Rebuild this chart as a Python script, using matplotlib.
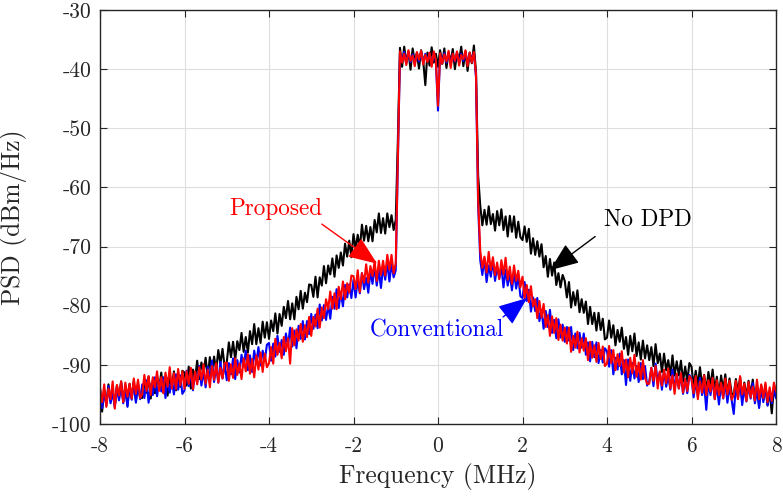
import numpy as np
import matplotlib
matplotlib.use("Agg")
import matplotlib.pyplot as plt

# ---------------- data ----------------
# frequency grid in MHz: -8 ... 8 in 0.05 MHz steps (321 points)
freq_mhz = np.linspace(-8.0, 8.0, 321)

# No DPD (black)
psd_no_dpd = (
    [-93.9, -97.9, -94.3, -96.6, -93.3, -96.2, -94.3, -96.9, -93.5, -95.7, -92.8, -96.2, -93.7, -96.9, -93.2, -95.6, -92.8, -96.1, -93.1, -95.5]
    + [-95.6, -92.7, -94.7, -92.0, -95.7, -92.6, -94.8, -91.9, -94.0, -91.3, -94.7, -92.3, -95.2, -91.6, -93.9, -91.1, -94.3, -91.9, -93.7, -91.0]
    + [-91.3, -93.5, -90.3, -94.0, -90.8, -92.4, -89.3, -92.4, -89.6, -91.3, -88.8, -92.1, -88.7, -91.0, -88.6, -91.0, -87.5, -89.8, -87.3, -90.3]
    + [-89.6, -86.2, -88.7, -86.1, -89.1, -86.0, -87.5, -84.6, -87.8, -85.3, -87.9, -84.3, -86.5, -83.1, -86.5, -83.8, -86.3, -82.7, -85.4, -82.8]
    + [-85.6, -82.5, -84.3, -81.3, -84.7, -81.4, -83.4, -80.2, -82.1, -79.2, -82.3, -79.6, -82.3, -78.5, -80.6, -77.5, -80.5, -77.8, -79.4, -76.4]
    + [-76.5, -78.5, -75.1, -78.6, -75.2, -76.6, -73.3, -76.2, -73.2, -74.7, -72.0, -75.1, -71.5, -73.6, -71.0, -73.2, -69.5, -71.7, -69.0, -71.8]
    + [-67.9, -70.4, -68.0, -70.3, -66.3, -69.0, -66.5, -69.1, -66.7, -69.1, -65.5, -67.6, -64.4, -67.7, -65.2, -67.8, -64.4, -66.7, -64.7, -67.2]
    + [-65.5, -52.0]
    + [-36.4, -39.6, -36.2, -38.9, -37.0, -40.1, -36.5, -38.8, -37.3, -39.9, -36.8, -38.6, -42.7, -37.2, -39.4, -36.3, -38.9, -37.4,
       -39.6, -36.8, -39.1, -36.5, -39.8, -37.2, -38.7, -36.6, -40.0, -37.3, -38.6, -36.2, -39.5, -37.0, -40.3, -37.2, -39.0, -36.0]
    + [-40.5, -58.0]
    + [-63.1, -66.4, -63.8, -66.3, -63.2, -66.2, -64.5, -67.3, -64.0, -66.4, -63.7, -67.2, -64.9, -68.3, -64.8, -67.5, -64.9, -68.5, -65.8, -68.4]
    + [-68.9, -66.6, -69.2, -67.0, -71.2, -68.6, -71.4, -69.1, -71.7, -69.6, -73.5, -71.6, -75.1, -72.1, -74.9, -72.7, -76.5, -74.5, -76.9, -74.8]
    + [-75.8, -78.6, -76.0, -80.3, -77.7, -79.9, -77.4, -81.1, -78.9, -81.2, -79.3, -83.1, -80.2, -83.1, -81.2, -84.2, -81.2, -84.1, -82.2, -85.7]
    + [-85.4, -82.5, -85.4, -83.3, -86.7, -84.1, -86.1, -83.7, -87.3, -85.3, -88.3, -85.1, -87.7, -84.7, -88.5, -86.2, -89.1, -85.9, -88.9, -86.7]
    + [-89.2, -87.0, -90.2, -86.5, -89.7, -88.1, -91.2, -88.1, -90.9, -89.2, -91.8, -88.4, -91.8, -89.4, -91.8, -89.3, -92.8, -90.3, -92.8, -89.7]
    + [-90.3, -93.6, -91.0, -93.5, -90.4, -93.4, -91.7, -94.5, -91.2, -93.6, -90.8, -94.3, -92.0, -95.3, -91.8, -94.3, -91.6, -95.1, -92.3, -94.8]
    + [-95.1, -92.4, -94.6, -92.1, -95.9, -93.0, -95.4, -92.7, -95.0, -92.5, -96.0, -93.8, -96.9, -93.5, -96.0, -93.4, -96.8, -94.5, -98.2, -93.9]
    + [-95.6]
)

# Conventional DPD (blue)
psd_conventional = (
    [-94.2, -97.3, -94.6, -96.9, -93.6, -96.5, -94.6, -97.2, -93.8, -96.0, -93.1, -96.5, -94.0, -97.1, -93.5, -95.9, -93.0, -96.4, -93.4, -95.8]
    + [-93.3, -95.6, -92.6, -96.4, -93.3, -95.1, -92.1, -95.3, -92.7, -94.5, -92.1, -95.6, -92.3, -94.7, -92.5, -95.0, -91.6, -94.2, -91.8, -94.9]
    + [-94.3, -91.0, -93.6, -91.1, -94.3, -91.3, -93.0, -90.2, -93.5, -91.1, -93.8, -90.3, -92.6, -89.3, -92.9, -90.3, -93.0, -89.5, -92.3, -89.8]
    + [-92.6, -89.7, -91.6, -88.9, -92.4, -89.2, -91.3, -88.3, -90.3, -87.6, -90.9, -88.4, -91.2, -87.6, -89.8, -87.0, -90.1, -87.6, -89.3, -86.6]
    + [-86.3, -89.3, -86.4, -88.6, -85.1, -87.8, -85.8, -88.3, -84.7, -86.8, -83.7, -86.9, -84.2, -87.2, -83.4, -85.6, -82.6, -85.7, -82.6, -84.8]
    + [-81.4, -83.9, -81.5, -83.8, -79.8, -82.5, -79.9, -82.4, -79.9, -82.2, -78.5, -80.5, -77.2, -80.4, -77.7, -80.1, -76.5, -78.6, -76.4, -78.7]
    + [-75.6, -78.6, -75.7, -77.9, -74.5, -77.2, -75.3, -77.8, -74.2, -76.3, -73.3, -76.6, -74.0, -77.0, -73.3, -75.6, -72.7, -75.9, -72.9, -75.2]
    + [-74.0, -56.0]
    + [-37.4, -38.6, -37.1, -39.0, -37.2, -38.8, -37.5, -39.1, -37.3, -38.7, -37.1, -38.9, -37.4, -38.6, -37.3, -39.2, -37.2, -38.7,
       -47.0, -37.5, -38.8, -37.3, -38.9, -37.2, -39.3, -37.5, -38.7, -37.2, -39.0, -37.4, -38.6, -37.1, -39.1, -37.3, -38.7, -37.2]
    + [-41.5, -63.0]
    + [-72.3, -74.8, -72.0, -76.0, -73.2, -75.1, -72.4, -75.8, -73.4, -75.4, -73.3, -76.9, -73.9, -76.6, -74.6, -77.4, -74.3, -77.1, -75.0, -78.4]
    + [-78.7, -76.0, -79.2, -77.3, -81.0, -78.6, -80.9, -78.7, -82.6, -80.7, -83.9, -80.9, -83.6, -80.7, -84.6, -82.4, -85.5, -82.3, -85.4, -83.2]
    + [-86.1, -83.6, -85.9, -83.6, -87.5, -84.7, -87.2, -84.6, -87.1, -84.7, -88.3, -86.2, -89.4, -86.1, -88.7, -86.2, -89.7, -87.5, -89.6, -87.2]
    + [-87.7, -90.3, -87.5, -91.6, -88.8, -90.8, -88.1, -91.6, -89.2, -93.4, -89.1, -92.7, -89.7, -92.3, -90.2, -92.9, -89.7, -92.4, -90.2, -93.5]
    + [-92.8, -90.5, -93.6, -89.8, -92.9, -91.2, -94.2, -91.0, -93.7, -91.9, -94.2, -90.8, -94.1, -91.7, -94.0, -91.5, -94.9, -92.4, -94.8, -91.7]
    + [-92.3, -95.5, -92.9, -95.3, -92.2, -95.1, -93.4, -97.6, -92.8, -95.1, -92.4, -95.8, -93.5, -96.7, -93.2, -95.7, -93.0, -96.4, -93.6, -96.0]
    + [-98.3, -93.5, -95.7, -93.1, -96.8, -93.9, -96.2, -93.4, -95.7, -93.1, -96.5, -94.3, -97.3, -93.8, -96.3, -93.6, -96.9, -94.6, -96.5, -93.9]
    + [-95.6]
)

# Proposed DPD (red)
psd_proposed = (
    [-94.0, -96.3, -93.3, -97.1, -94.0, -95.8, -92.8, -97.4, -93.4, -95.2, -92.8, -96.3, -93.0, -95.4, -93.2, -95.7, -92.3, -94.9, -92.5, -95.6]
    + [-95.0, -91.7, -94.4, -91.9, -95.1, -92.1, -93.8, -91.1, -94.4, -92.1, -94.8, -91.3, -93.7, -90.4, -94.0, -91.4, -94.1, -90.7, -93.5, -91.1]
    + [-94.0, -91.1, -93.2, -90.5, -94.1, -91.1, -93.3, -90.4, -92.5, -89.9, -93.2, -90.8, -93.8, -90.2, -92.5, -89.7, -93.0, -90.5, -92.3, -89.7]
    + [-89.6, -92.7, -89.9, -92.2, -88.9, -91.7, -89.8, -92.4, -88.9, -91.1, -88.2, -91.5, -89.0, -92.1, -88.4, -90.8, -87.9, -91.2, -88.1, -90.4]
    + [-89.7, -87.0, -89.8, -85.6, -88.3, -86.3, -88.9, -85.3, -87.7, -85.5, -89.8, -83.8, -86.7, -84.0, -85.9, -83.1, -86.1, -83.3, -85.3, -81.9]
    + [-85.1, -81.9, -83.5, -80.5, -83.7, -80.3, -82.1, -78.9, -80.6, -77.6, -80.5, -77.9, -80.6, -76.8, -78.9, -75.9, -78.9, -76.2, -77.8, -74.9]
    + [-75.0, -77.2, -74.0, -77.7, -74.5, -76.1, -73.0, -76.1, -73.3, -75.0, -72.5, -75.8, -72.4, -74.8, -72.4, -74.9, -71.4, -73.9, -71.4, -74.5]
    + [-72.8, -55.0]
    + [-37.0, -38.9, -37.4, -39.3, -36.8, -38.6, -37.7, -39.5, -37.1, -38.4, -36.9, -39.2, -37.6, -38.8, -37.2, -39.6, -37.0, -38.5,
       -46.2, -37.3, -39.1, -37.5, -38.7, -36.9, -39.8, -37.4, -38.6, -37.0, -39.4, -37.6, -38.3, -36.8, -39.5, -37.2, -38.9, -37.1]
    + [-41.0, -62.0]
    + [-70.7, -73.6, -71.7, -74.4, -70.9, -74.0, -71.8, -74.8, -72.7, -75.5, -72.3, -74.7, -71.9, -75.6, -73.4, -76.3, -73.2, -75.8, -74.1, -76.9]
    + [-75.1, -78.7, -76.5, -79.4, -76.7, -80.1, -78.9, -82.1, -79.2, -82.0, -79.7, -83.6, -81.6, -85.1, -81.8, -84.6, -82.1, -85.8, -83.2, -85.9]
    + [-83.7, -86.4, -83.7, -87.8, -85.1, -87.1, -84.4, -87.9, -85.5, -87.6, -85.5, -89.2, -86.1, -88.8, -86.7, -89.5, -86.3, -89.0, -86.9, -90.2]
    + [-89.8, -86.8, -89.7, -87.5, -90.9, -88.2, -90.2, -87.7, -91.3, -89.1, -92.1, -88.8, -91.4, -88.3, -92.0, -89.6, -92.5, -89.2, -92.2, -93.2]
    + [-93.2, -90.5, -92.7, -90.2, -94.0, -91.1, -93.5, -90.8, -93.1, -90.6, -94.0, -91.8, -94.9, -91.5, -94.0, -91.4, -94.7, -92.4, -94.4, -91.9]
    + [-92.4, -94.8, -91.9, -95.8, -92.8, -94.7, -91.8, -95.1, -92.6, -94.5, -92.2, -95.8, -92.6, -95.1, -93.0, -95.6, -92.3, -95.0, -92.7, -95.9]
    + [-95.1, -92.7, -95.8, -91.9, -95.0, -93.2, -96.1, -92.9, -95.5, -93.7, -96.0, -92.5, -95.8, -93.3, -95.6, -93.0, -96.3, -93.8, -96.1, -93.0]
    + [-94.5]
)

x_ticks = [-8, -6, -4, -2, 0, 2, 4, 6, 8]
y_ticks = [-100, -90, -80, -70, -60, -50, -40, -30]

# ---------------- style ----------------
plt.rcParams['font.family'] = ['cmr10', 'DejaVu Serif']
plt.rcParams['mathtext.fontset'] = 'cm'
plt.rcParams['axes.formatter.use_mathtext'] = True

TXT = '#262626'
fig = plt.figure(figsize=(7.83, 4.98), dpi=100)
ax = fig.add_axes([100 / 783, (498 - 424) / 498, 676 / 783, 414 / 498])

ax.plot(freq_mhz, psd_no_dpd, color='black', lw=1.5, zorder=3)
ax.plot(freq_mhz, psd_conventional, color='blue', lw=1.5, zorder=4)
ax.plot(freq_mhz, psd_proposed, color='red', lw=1.5, zorder=5)

ax.set_xlim(-8, 8)
ax.set_ylim(-100, -30)
ax.set_xticks(x_ticks)
ax.set_xticklabels([str(v) for v in x_ticks])
ax.set_yticks(y_ticks)
ax.set_yticklabels([str(v) for v in y_ticks])
ax.grid(True, color='#dedede', lw=0.8, zorder=0)
ax.set_axisbelow(True)
for s in ax.spines.values():
    s.set_color(TXT)
    s.set_linewidth(1.0)
    s.set_zorder(10)
ax.tick_params(direction='in', length=5, width=0.8, colors=TXT, top=True, right=True,
               labelsize=15.5)
ax.tick_params(axis='x', pad=9)
ax.tick_params(axis='y', pad=6)

ax.set_xlabel('Frequency (MHz)', fontsize=18.3, color=TXT)
ax.set_ylabel('PSD (dBm/Hz)', fontsize=18.3, color=TXT)
ax.xaxis.set_label_coords(0.5, -0.095)
ax.yaxis.set_label_coords(-0.108, 0.5)

# annotations
arrow_style = '-|>,head_length=1.0,head_width=0.4'
ax.text(-3.83, -63.6, 'Proposed', color='red', fontsize=16.7, ha='center', va='center', zorder=12)
ax.annotate('', xy=(-1.44, -72.9), xytext=(-2.75, -66.2),
            arrowprops=dict(arrowstyle=arrow_style, color='red', lw=1.0,
                            mutation_scale=18, shrinkA=0, shrinkB=0), zorder=12)
ax.text(4.97, -65.5, 'No DPD', color='black', fontsize=16.7, ha='center', va='center', zorder=12)
ax.annotate('', xy=(2.65, -74.0), xytext=(3.72, -68.3),
            arrowprops=dict(arrowstyle=arrow_style, color='black', lw=1.0,
                            mutation_scale=18, shrinkA=0, shrinkB=0), zorder=12)
ax.text(-0.02, -84.1, 'Conventional', color='blue', fontsize=16.7, ha='center', va='center', zorder=12)
ax.annotate('', xy=(2.11, -78.7), xytext=(1.54, -81.9),
            arrowprops=dict(arrowstyle=arrow_style, color='blue', lw=1.0,
                            mutation_scale=18, shrinkA=0, shrinkB=0), zorder=12)

fig.savefig('out.png', dpi=100)
